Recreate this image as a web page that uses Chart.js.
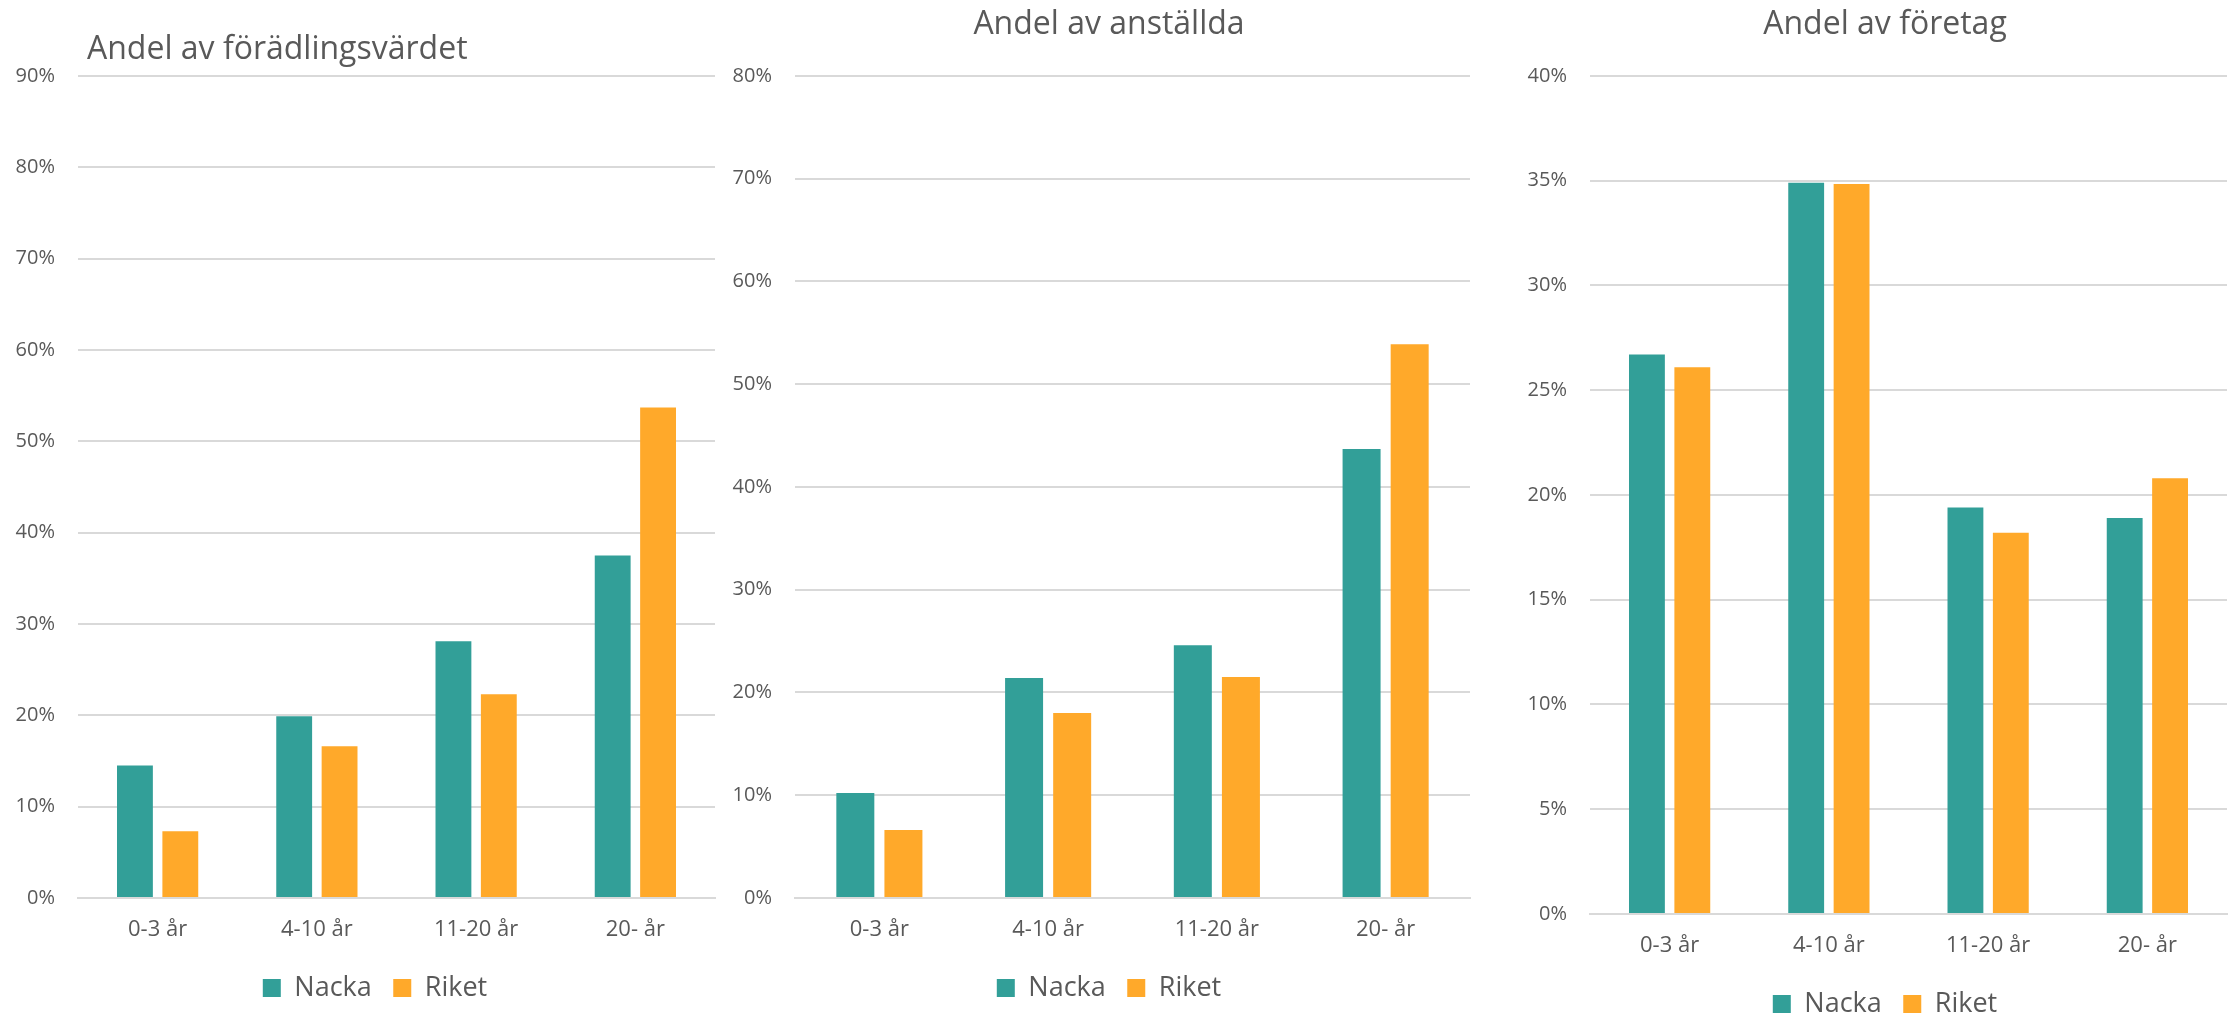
<!DOCTYPE html>
<html lang="sv">
<head>
<meta charset="utf-8">
<title>Andel per företagsålder</title>
<script src="https://cdn.jsdelivr.net/npm/chart.js@4.4.1/dist/chart.umd.min.js"></script>
<style>
  html, body { margin: 0; padding: 0; background: #fff; overflow: hidden; }
  body { width: 2237px; height: 1015px; position: relative; }
  .box { position: absolute; top: 0; }
</style>
</head>
<body>
<div class="box" id="box1" style="left:0px;width:750px;height:1015px"><canvas id="chart1"></canvas></div>
<div class="box" id="box2" style="left:730px;width:758px;height:1015px"><canvas id="chart2"></canvas></div>
<div class="box" id="box3" style="left:1525px;width:720px;height:1031px"><canvas id="chart3"></canvas></div>
<script>
// shared categories and series names
const categories = ["0-3 år", "4-10 år", "11-20 år", "20- år"];
const seriesNames = ["Nacka", "Riket"];

// Andel av förädlingsvärdet (%)
const vardeNacka = [14.5, 19.9, 28.1, 37.5];
const vardeRiket = [7.3, 16.6, 22.3, 53.7];

// Andel av anställda (%)
const anstNacka = [10.2, 21.4, 24.6, 43.7];
const anstRiket = [6.6, 18.0, 21.5, 53.9];

// Andel av företag (%)
const foretagNacka = [26.7, 34.9, 19.4, 18.9];
const foretagRiket = [26.1, 34.85, 18.2, 20.8];

const TEAL = "#329f98";
const ORANGE = "#ffa92a";
const TEXT = "#595959";
const GRID = "#d9d9d9";
const FONT = "'Open Sans', 'Noto Sans', sans-serif";

Chart.defaults.font.family = FONT;
Chart.defaults.color = TEXT;

// nudges the title block sideways after layout (only used by the first chart)
const titleShift = {
  id: "titleShift",
  afterLayout(chart, args, opts) {
    if (chart.titleBlock && opts.dx) {
      chart.titleBlock.left += opts.dx;
      chart.titleBlock.right += opts.dx;
    }
  },
};

function makeChart(id, opts) {
  const ctx = document.getElementById(id).getContext("2d");
  return new Chart(ctx, {
    type: "bar",
    data: {
      labels: categories,
      datasets: [
        { label: seriesNames[0], data: opts.nacka, backgroundColor: TEAL, borderWidth: 0 },
        { label: seriesNames[1], data: opts.riket, backgroundColor: ORANGE, borderWidth: 0 },
      ],
    },
    plugins: [titleShift],
    options: {
      responsive: true,
      maintainAspectRatio: false,
      animation: false,
      categoryPercentage: 0.57,
      barPercentage: 0.79,
      layout: { padding: { left: 0, right: 0, top: 0, bottom: 3.6 } },
      plugins: {
        titleShift: { dx: opts.titleDx || 0 },
        title: {
          display: true,
          text: opts.title,
          align: opts.titleAlign,
          fullSize: opts.titleAlign !== "start",
          color: TEXT,
          font: { size: 32, weight: "normal", lineHeight: 1.2 },
          padding: opts.titlePadding,
        },
        legend: {
          position: "bottom",
          labels: {
            boxWidth: 18,
            boxHeight: 18,
            padding: 21.5,
            color: TEXT,
            font: { size: 27 },
          },
        },
        tooltip: { enabled: false },
      },
      scales: {
        x: {
          grid: { display: false, drawTicks: false },
          border: { display: true, color: GRID, width: 2 },
          ticks: { padding: 19, color: TEXT, font: { size: 22 } },
          afterFit: (s) => { s.height = 55; },
        },
        y: {
          min: 0,
          max: opts.max,
          ticks: {
            stepSize: opts.step,
            padding: 23,
            color: TEXT,
            font: { size: 20 },
            callback: (v) => v + "%",
          },
          grid: { color: GRID, lineWidth: 2, drawTicks: false },
          border: { display: false },
          afterFit: (s) => { s.width = opts.leftWidth; },
        },
        yR: {
          type: "linear",
          position: "right",
          display: true,
          ticks: { display: false },
          grid: { display: false, drawTicks: false },
          border: { display: false },
          afterFit: (s) => { s.width = opts.rightWidth; },
        },
      },
    },
  });
}

makeChart("chart1", {
  title: "Andel av förädlingsvärdet",
  titleAlign: "start",
  titleDx: 9,
  titlePadding: { top: 30.8, bottom: 6.8 },
  nacka: vardeNacka,
  riket: vardeRiket,
  max: 90,
  step: 10,
  leftWidth: 78,
  rightWidth: 35,
});

makeChart("chart2", {
  title: "Andel av anställda",
  titleAlign: "center",
  titlePadding: { top: 5.3, bottom: 32.3 },
  nacka: anstNacka,
  riket: anstRiket,
  max: 80,
  step: 10,
  leftWidth: 65,
  rightWidth: 18,
});

makeChart("chart3", {
  title: "Andel av företag",
  titleAlign: "center",
  titlePadding: { top: 5.3, bottom: 32.3 },
  nacka: foretagNacka,
  riket: foretagRiket,
  max: 40,
  step: 5,
  leftWidth: 65,
  rightWidth: 18,
});
</script>
</body>
</html>
